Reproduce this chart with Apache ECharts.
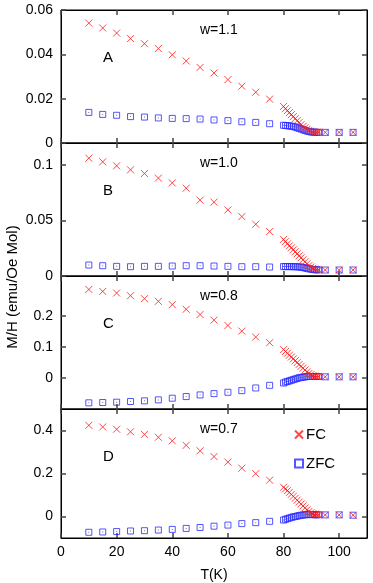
<!DOCTYPE html>
<html>
<head>
<meta charset="utf-8">
<script src="https://cdn.jsdelivr.net/npm/echarts/dist/echarts.min.js"></script>
<style>
  html, body { margin: 0; padding: 0; background: #fff; }
  #chart { width: 373px; height: 583px; }
</style>
</head>
<body>
<div id="chart"></div>
<script>
// temperatures (K)
const temps = [10, 15, 20, 25, 30, 35, 40, 45, 50, 55, 60, 65, 70, 75,
  80, 80.7, 81.4, 82.1, 82.8, 83.5, 84.2, 84.9, 85.6, 86.3, 87, 87.7, 88.4, 89.1, 89.8, 90.5, 91.2, 91.9, 92.6,
  95, 100, 105];

// panel A, w=1.1
const fcA = [0.0541, 0.0519, 0.0496, 0.0471, 0.0448, 0.0426, 0.0398, 0.0370, 0.0341, 0.0316, 0.0286, 0.0256, 0.0229, 0.0198,
  0.0165, 0.0155, 0.0146, 0.0137, 0.0128, 0.0119, 0.0110, 0.0101, 0.0092, 0.0083, 0.0075, 0.0068, 0.0062, 0.0057, 0.0053, 0.0051, 0.0050, 0.0049, 0.0049,
  0.0048, 0.0048, 0.0048];
const zfcA = [0.0138, 0.0129, 0.0125, 0.0119, 0.0117, 0.0113, 0.0111, 0.0110, 0.0108, 0.0104, 0.0101, 0.0096, 0.0093, 0.0087,
  0.0080, 0.0079, 0.0078, 0.0077, 0.0076, 0.0074, 0.0072, 0.0069, 0.0066, 0.0063, 0.0060, 0.0057, 0.0054, 0.0052, 0.0050, 0.0049, 0.0049, 0.0048, 0.0048,
  0.0048, 0.0048, 0.0048];

// panel B, w=1.0
const fcB = [0.1063, 0.1030, 0.0994, 0.0958, 0.0925, 0.0883, 0.0840, 0.0792, 0.0684, 0.0666, 0.0596, 0.0536, 0.0467, 0.0401,
  0.0330, 0.0310, 0.0290, 0.0272, 0.0254, 0.0236, 0.0218, 0.0200, 0.0182, 0.0164, 0.0146, 0.0128, 0.0110, 0.0094, 0.0080, 0.0070, 0.0063, 0.0058, 0.0056,
  0.0054, 0.0054, 0.0054];
const zfcB = [0.0099, 0.0093, 0.0087, 0.0084, 0.0087, 0.0087, 0.0090, 0.0093, 0.0093, 0.0090, 0.0087, 0.0084, 0.0084, 0.0081,
  0.0085, 0.0085, 0.0085, 0.0085, 0.0085, 0.0084, 0.0084, 0.0083, 0.0082, 0.0080, 0.0077, 0.0073, 0.0069, 0.0065, 0.0062, 0.0059, 0.0057, 0.0056, 0.0055,
  0.0054, 0.0054, 0.0054];

// panel C, w=0.8
const fcC = [0.2866, 0.2802, 0.2749, 0.2663, 0.2567, 0.2481, 0.2374, 0.2225, 0.2053, 0.1872, 0.1700, 0.1519, 0.1326, 0.1144,
  0.092, 0.086, 0.080, 0.074, 0.068, 0.062, 0.056, 0.050, 0.044, 0.038, 0.032, 0.026, 0.020, 0.015, 0.011, 0.008, 0.006, 0.005, 0.005,
  0.004, 0.004, 0.004];
const zfcC = [-0.080, -0.079, -0.078, -0.0758, -0.0737, -0.0705, -0.0651, -0.0598, -0.0545, -0.0502, -0.0459, -0.0406, -0.032, -0.0235,
  -0.016, -0.013, -0.011, -0.009, -0.007, -0.005, -0.003, -0.001, 0.001, 0.002, 0.003, 0.004, 0.005, 0.005, 0.005, 0.005, 0.005, 0.005, 0.005,
  0.004, 0.004, 0.004];

// panel D, w=0.7
const fcD = [0.424, 0.4165, 0.406, 0.394, 0.382, 0.3685, 0.352, 0.331, 0.3056, 0.2787, 0.253, 0.2247, 0.1993, 0.169,
  0.136, 0.128, 0.120, 0.112, 0.103, 0.094, 0.085, 0.076, 0.067, 0.058, 0.049, 0.040, 0.031, 0.023, 0.017, 0.013, 0.010, 0.009, 0.008,
  0.0075, 0.0075, 0.006];
const zfcD = [-0.0734, -0.072, -0.070, -0.0674, -0.066, -0.063, -0.060, -0.0554, -0.051, -0.045, -0.040, -0.033, -0.0285, -0.0225,
  -0.0165, -0.013, -0.010, -0.007, -0.004, -0.002, 0.000, 0.002, 0.004, 0.006, 0.007, 0.008, 0.009, 0.009, 0.009, 0.009, 0.008, 0.008, 0.008,
  0.0075, 0.0075, 0.006];

// axes
const xTicks = [0, 20, 40, 60, 80, 100];
const yTicksA = [0, 0.02, 0.04, 0.06];
const yTicksB = [0, 0.05, 0.1];
const yTicksC = [0, 0.1, 0.2];
const yTicksD = [0, 0.2, 0.4];

const panelLetters = ["A", "B", "C", "D"];
const panelLabels = ["w=1.1", "w=1.0", "w=0.8", "w=0.7"];

const panels = [
  { fc: fcA, zfc: zfcA, ticks: yTicksA, min: 0, max: 0.06 },
  { fc: fcB, zfc: zfcB, ticks: yTicksB, min: 0, max: 0.12 },
  { fc: fcC, zfc: zfcC, ticks: yTicksC, min: -0.1, max: 0.33 },
  { fc: fcD, zfc: zfcD, ticks: yTicksD, min: -0.1, max: 0.5 }
];

const FONT = "Liberation Sans, Arial, sans-serif";
const RED = "#ff1a1a";
const BLUE = "#2b2bff";
const crossSymbol = "path://M0,0L10,10M10,0L0,10";

const gridTop = 10, panelH = 133;

const zip = (ys) => temps.map((t, i) => [t, ys[i]]);

const grids = [], xAxes = [], yAxes = [], series = [], graphics = [];

panels.forEach((p, i) => {
  grids.push({ left: 61, right: 6, top: gridTop + i * panelH, height: panelH, show: true, borderColor: "#000", borderWidth: 1 });

  ["bottom", "top"].forEach((pos) => {
    xAxes.push({
      gridIndex: i, type: "value", position: pos, min: 0, max: 110,
      axisLine: { show: true, onZero: false, lineStyle: { color: "#000", width: 1 } },
      axisTick: { show: true, inside: true, length: 5, customValues: xTicks, lineStyle: { color: "#444", width: 1.5 } },
      axisLabel: {
        show: pos === "bottom" && i === 3, customValues: xTicks, margin: 7,
        color: "#000", fontSize: 14, fontFamily: FONT
      },
      splitLine: { show: false },
      name: pos === "bottom" && i === 3 ? "T(K)" : "",
      nameLocation: "middle", nameGap: 30,
      nameTextStyle: { color: "#000", fontSize: 14, fontFamily: FONT }
    });
  });

  ["left", "right"].forEach((pos) => {
    yAxes.push({
      gridIndex: i, type: "value", position: pos, min: p.min, max: p.max,
      axisLine: { show: true, onZero: false, lineStyle: { color: "#000", width: 1 } },
      axisTick: { show: true, inside: true, length: 5, customValues: p.ticks, lineStyle: { color: "#444", width: 1.5 } },
      axisLabel: {
        show: pos === "left", customValues: p.ticks, margin: 8,
        color: "#000", fontSize: 14, fontFamily: FONT
      },
      splitLine: { show: false }
    });
  });

  series.push({
    name: "ZFC", type: "scatter", xAxisIndex: 2 * i, yAxisIndex: 2 * i,
    data: zip(p.zfc), symbol: "rect", symbolSize: 6,
    itemStyle: { color: "transparent", borderColor: BLUE, borderWidth: 1 }, z: 2
  });
  series.push({
    name: "ZFCdot", type: "scatter", xAxisIndex: 2 * i, yAxisIndex: 2 * i,
    data: zip(p.zfc), symbol: "rect", symbolSize: 1,
    itemStyle: { color: "#556" }, z: 2
  });
  series.push({
    name: "FC", type: "scatter", xAxisIndex: 2 * i, yAxisIndex: 2 * i,
    data: zip(p.fc), symbol: crossSymbol, symbolSize: 7,
    itemStyle: { color: "transparent", borderColor: RED, borderWidth: 1 }, z: 3
  });

  const top = gridTop + i * panelH;
  graphics.push({
    type: "text", left: 200, top: top + 13,
    style: { text: panelLabels[i], font: "14px " + FONT, fill: "#000" }
  });
  graphics.push({
    type: "text", left: 103, top: top + 40,
    style: { text: panelLetters[i], font: "15px " + FONT, fill: "#000" }
  });
});

graphics.push({
  type: "text", x: 13, y: 287, rotation: Math.PI / 2,
  style: { text: "M/H (emu/Oe Mol)", font: "15px " + FONT, fill: "#000", align: "center", verticalAlign: "middle" }
});

const chart = echarts.init(document.getElementById("chart"), null, { renderer: "canvas" });
chart.setOption({
  animation: false,
  backgroundColor: "#fff",
  grid: grids,
  xAxis: xAxes,
  yAxis: yAxes,
  legend: {
    data: ["FC", "ZFC"], orient: "vertical", left: 289, top: 422,
    itemWidth: 8, itemHeight: 8, itemGap: 14, selectedMode: false,
    textStyle: { color: "#000", fontSize: 15, fontFamily: FONT, padding: [0, 0, 0, -2] }
  },
  graphic: graphics,
  series: series
});
</script>
</body>
</html>
